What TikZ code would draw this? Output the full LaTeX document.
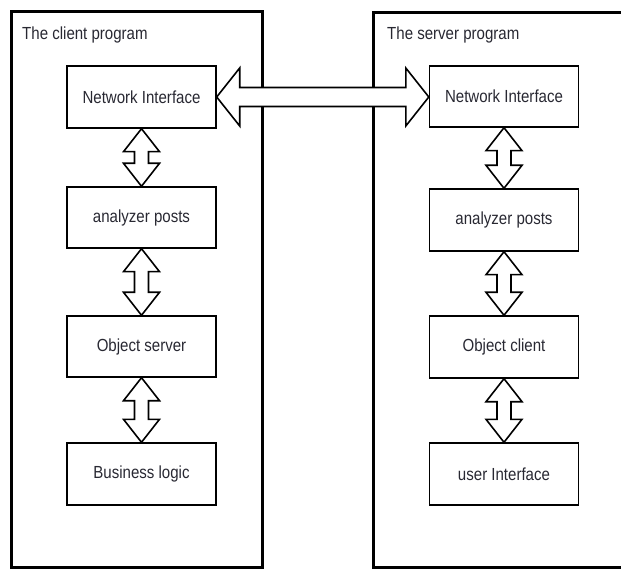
\documentclass[tikz,border=0pt]{standalone}
\usepackage{fontspec}
\setmainfont{Liberation Sans}[FakeStretch=0.86]
\usetikzlibrary{calc}
\definecolor{txt}{RGB}{40,40,50}
\newcommand\vdbl[2]{%
\draw[dbl] let \p1=(#1.south), \p2=(#2.north) in
 (\x1,\y1) -- (\x1+18pt,\y1-23pt) -- (\x1+7pt,\y1-23pt) -- (\x1+7pt,\y2+23pt) -- (\x1+18pt,\y2+23pt) -- (\x1,\y2)
 -- (\x1-18pt,\y2+23pt) -- (\x1-7pt,\y2+23pt) -- (\x1-7pt,\y1-23pt) -- (\x1-18pt,\y1-23pt) -- cycle;}
\begin{document}
\begin{tikzpicture}[x=1pt,y=-1pt,
  outer/.style={line width=3pt},
  comp/.style={draw, line width=1.4pt, minimum width=149pt, minimum height=62pt, inner sep=0pt,
    font=\fontsize{17.5}{20}\selectfont, text=txt},
  title/.style={anchor=base west, inner sep=0pt, font=\fontsize{17.5}{20}\selectfont, text=txt},
  dbl/.style={draw, fill=white, line width=1.6pt, line join=miter}]
\useasboundingbox (0,0) rectangle (621,569);
% outer frames
\draw[outer] (11.5,12) rectangle (262.5,567);
\draw[outer] (625,12.5) -- (373.5,12.5) -- (373.5,567) -- (625,567);
\node[title] (cl) at (22,40) {The client program};
\node[title] (sv) at (387,40) {The server program};
% client column
\node[comp] (lni) at (141.5,97) {Network Interface};
\node[comp, minimum height=61pt] (lap) at (141.5,217.5) {analyzer posts};
\node[comp, minimum height=61pt] (los) at (141.5,346.5) {Object server};
\node[comp] (lbl) at (141.5,474) {Business logic};
% server column
\node[comp, minimum height=61pt] (rni) at (504,96.5) {Network Interface};
\node[comp] (rap) at (504,220) {analyzer posts};
\node[comp] (roc) at (504,347) {Object client};
\node[comp] (rui) at (504,474) {user Interface};
% vertical connectors
\vdbl{lni}{lap}
\vdbl{lap}{los}
\vdbl{los}{lbl}
\vdbl{rni}{rap}
\vdbl{rap}{roc}
\vdbl{roc}{rui}
% horizontal connector
\draw[dbl] let \p1=(lni.east), \p2=(rni.west) in
 (\x1,\y1) -- (\x1+23pt,\y1+29pt) -- (\x1+23pt,\y1+9.5pt) -- (\x2-23pt,\y1+9.5pt) -- (\x2-23pt,\y1+29pt) -- (\x2,\y1)
 -- (\x2-23pt,\y1-29pt) -- (\x2-23pt,\y1-9.5pt) -- (\x1+23pt,\y1-9.5pt) -- (\x1+23pt,\y1-29pt) -- cycle;
\end{tikzpicture}
\end{document}
